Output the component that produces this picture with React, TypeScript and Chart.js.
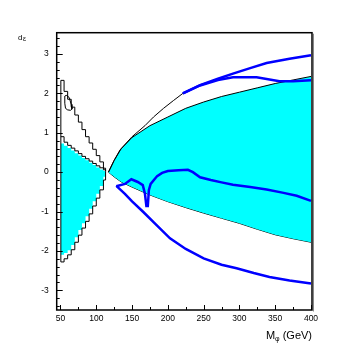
import { useEffect, useRef } from "react";
import { Chart, registerables } from "chart.js";

Chart.register(...registerables);

// ---- axis ticks ----
const xTickValues = [50, 100, 150, 200, 250, 300, 350, 400];
const yTickValues = [-3, -2, -1, 0, 1, 2, 3];

// ---- left region (histogram bins, 5 GeV) ----
const leftBinEdges = [50.5, 55, 60, 65, 70, 75, 80, 85, 90, 95, 100, 105, 110, 113];
const leftOuterUpper = [2.33, 2.05, 1.85, 1.65, 1.45, 1.27, 1.08, 0.9, 0.74, 0.58, 0.42, 0.26, 0.1];
const leftInnerTop = [0.9, 0.76, 0.68, 0.61, 0.54, 0.47, 0.4, 0.34, 0.28, 0.22, 0.16, 0.11, 0.06];
const leftCyanTop = [0.73, 0.67, 0.61, 0.55, 0.48, 0.42, 0.36, 0.3, 0.24, 0.18, 0.12, 0.07, 0.03];
const leftCyanBottom = [-2.1, -2.05, -1.98, -1.85, -1.65, -1.47, -1.3, -1.12, -0.93, -0.74, -0.55, -0.35, -0.12];
const leftOuterLower = [-2.28, -2.2, -2.1, -1.97, -1.78, -1.6, -1.42, -1.25, -1.06, -0.86, -0.66, -0.45, -0.2];
const leftApexY = 0.02;
const leftLoopX = [56, 58, 62, 65, 66, 64, 60, 57, 56, 56];
const leftLoopY = [1.93, 1.95, 1.9, 1.72, 1.6, 1.57, 1.58, 1.62, 1.75, 1.93];

// ---- right region (smooth band) ----
const rightX = [117, 125, 135, 150, 175, 200, 225, 250, 275, 300, 325, 350, 375, 400];
const rightCyanTop = [0.0, 0.3, 0.6, 0.88, 1.18, 1.4, 1.62, 1.78, 1.92, 2.03, 2.14, 2.25, 2.34, 2.43];
const rightCyanBottom = [0.0, -0.12, -0.25, -0.38, -0.58, -0.75, -0.9, -1.04, -1.17, -1.3, -1.45, -1.59, -1.69, -1.78];

const outerUpperX = [117, 125, 133, 150, 168, 180, 194, 208, 221];
const outerUpperY = [0.0, 0.3, 0.56, 0.9, 1.18, 1.4, 1.62, 1.82, 2.0];

// ---- blue curves ----
const blueTopAX = [221, 245, 270, 291, 315, 338, 370, 400];
const blueTopAY = [2.0, 2.21, 2.37, 2.5, 2.64, 2.77, 2.88, 2.97];
const blueTopBX = [221, 245, 270, 291, 324, 356, 375, 400];
const blueTopBY = [2.0, 2.2, 2.34, 2.41, 2.41, 2.31, 2.31, 2.33];
const blueMidX = [128, 140, 149, 158, 165, 168, 170, 172, 173.5, 176, 185, 192, 200, 215, 228, 235, 245, 260, 275, 291, 315, 338, 360, 380, 400];
const blueMidY = [-0.36, -0.3, -0.18, -0.25, -0.33, -0.55, -0.86, -0.86, -0.45, -0.3, -0.1, -0.02, 0.03, 0.05, 0.06, 0.0, -0.13, -0.2, -0.26, -0.32, -0.38, -0.44, -0.52, -0.6, -0.73];
const blueLowX = [128, 140, 150, 165, 180, 203, 225, 250, 275, 296, 320, 342, 370, 400];
const blueLowY = [-0.35, -0.55, -0.74, -1.0, -1.27, -1.68, -1.95, -2.19, -2.35, -2.44, -2.56, -2.66, -2.75, -2.83];

const BLUE = "#0000ff";
const CYAN = "#00ffff";
const FONT = "'Liberation Sans', Arial, sans-serif";

function stepPoints(edges: number[], vals: number[], endY: number) {
  const pts = vals.map((v, i) => ({ x: edges[i], y: v }));
  pts.push({ x: edges[edges.length - 1], y: endY });
  return pts;
}
function linePoints(xs: number[], ys: number[]) {
  return xs.map((x, i) => ({ x, y: ys[i] }));
}

export default function App() {
  const ref = useRef<HTMLCanvasElement>(null);

  useEffect(() => {
    if (!ref.current) return;

    const framePlugin = {
      id: "rootFrame",
      afterDraw(chart: any) {
        const { ctx, chartArea: a, scales } = chart;
        const xs = scales.x;
        const ys = scales.y;
        ctx.save();
        ctx.strokeStyle = "#000";
        ctx.lineWidth = 1;
        // y ticks (inside)
        for (let v = -3.4; v <= 3.41; v += 0.2) {
          const r = Math.round(v * 10) / 10;
          const major = Math.abs(r - Math.round(r)) < 1e-6;
          const py = Math.round(ys.getPixelForValue(r)) + 0.5;
          ctx.beginPath();
          ctx.moveTo(a.left, py);
          ctx.lineTo(a.left + (major ? 6 : 3), py);
          ctx.stroke();
        }
        // x ticks (inside)
        for (let v = 50; v <= 400; v += 25) {
          const major = v % 50 === 0;
          const px = Math.round(xs.getPixelForValue(v)) + 0.5;
          ctx.beginPath();
          ctx.moveTo(px, a.bottom);
          ctx.lineTo(px, a.bottom - (major ? 5 : 3));
          ctx.stroke();
        }
        // frame
        ctx.lineWidth = 1.5;
        ctx.strokeRect(a.left, a.top, a.right - a.left, a.bottom - a.top);
        ctx.strokeStyle = "#888";
        ctx.lineWidth = 1;
        ctx.beginPath();
        ctx.moveTo(a.right + 1.5, a.top + 1);
        ctx.lineTo(a.right + 1.5, a.bottom + 1.5);
        ctx.stroke();

        // x title: M_phi (GeV)
        ctx.fillStyle = "#000";
        ctx.textBaseline = "alphabetic";
        ctx.textAlign = "left";
        ctx.font = `11px ${FONT}`;
        const tail = " (GeV)";
        const wM = ctx.measureText("M").width;
        const wT = ctx.measureText(tail).width;
        ctx.font = `7px ${FONT}`;
        const wP = ctx.measureText("\u03c6").width;
        const xEnd = a.right;
        const x0 = xEnd - (wM + wP + wT);
        const yb = 339;
        ctx.font = `11px ${FONT}`;
        ctx.fillText("M", x0, yb);
        ctx.font = `7px ${FONT}`;
        ctx.fillText("\u03c6", x0 + wM, yb + 2);
        ctx.font = `11px ${FONT}`;
        ctx.fillText(tail, x0 + wM + wP, yb);

        // y title
        ctx.font = `8px ${FONT}`;
        ctx.fillText("d", 18, 40);
        ctx.font = `7px ${FONT}`;
        ctx.fillText("\u03b5", 23, 41);
        ctx.restore();
      },
    };

    const blackLine = (data: any[], stepped = false, order = 2) => ({
      data,
      showLine: true,
      borderColor: "#000",
      borderWidth: 1,
      pointRadius: 0,
      fill: false,
      stepped,
      order,
    });
    const blueLine = (data: any[]) => ({
      data,
      showLine: true,
      borderColor: BLUE,
      borderWidth: 2.5,
      pointRadius: 0,
      fill: false,
      order: 0,
    });

    const datasets: any[] = [
      blueLine(linePoints(blueTopAX, blueTopAY)), // 0
      blueLine(linePoints(blueTopBX, blueTopBY)), // 1
      blueLine(linePoints(blueMidX, blueMidY)), // 2
      blueLine(linePoints(blueLowX, blueLowY)), // 3
      blackLine(linePoints(outerUpperX, outerUpperY)), // 4
      {
        data: linePoints(rightX, rightCyanTop), // 5
        showLine: true,
        borderColor: "#000",
        borderWidth: 1,
        backgroundColor: CYAN,
        pointRadius: 0,
        fill: { target: 6 },
        order: 5,
      },
      blackLine(linePoints(rightX, rightCyanBottom), false, 5), // 6
      {
        data: stepPoints(leftBinEdges, leftCyanTop, leftApexY), // 7
        showLine: true,
        borderWidth: 0,
        borderColor: "rgba(0,0,0,0)",
        backgroundColor: CYAN,
        pointRadius: 0,
        stepped: true,
        fill: { target: 8 },
        order: 6,
      },
      {
        data: stepPoints(leftBinEdges, leftCyanBottom, leftApexY), // 8
        showLine: true,
        borderWidth: 0,
        borderColor: "rgba(0,0,0,0)",
        pointRadius: 0,
        stepped: true,
        fill: false,
        order: 6,
      },
      blackLine(stepPoints(leftBinEdges, leftInnerTop, leftApexY), true), // 9
      blackLine(stepPoints(leftBinEdges, leftOuterUpper, leftApexY), true), // 10
      blackLine(stepPoints(leftBinEdges, leftOuterLower, leftApexY), true), // 11
      blackLine(
        linePoints(
          [leftBinEdges[0], leftBinEdges[0]],
          [leftOuterLower[0], leftOuterUpper[0]]
        )
      ), // 12
      blackLine(linePoints(leftLoopX, leftLoopY)), // 13
    ];

    const chart = new Chart(ref.current, {
      type: "scatter",
      data: { datasets },
      options: {
        animation: false,
        responsive: false,
        events: [],
        layout: { padding: { left: 0, top: 32.7, right: 42, bottom: 0 } },
        plugins: { legend: { display: false }, tooltip: { enabled: false } },
        elements: { line: { tension: 0 } },
        scales: {
          x: {
            type: "linear",
            min: 44.7,
            max: 401.4,
            afterBuildTicks: (s: any) => {
              s.ticks = xTickValues.map((v) => ({ value: v }));
            },
            afterFit: (s: any) => {
              s.height = 354 - 310 - 0;
            },
            ticks: {
              color: "#000",
              font: { family: FONT, size: 8.5 },
              padding: 4,
              maxRotation: 0,
              autoSkip: false,
            },
            grid: { display: false, drawTicks: false },
            border: { display: false },
          },
          y: {
            type: "linear",
            min: -3.5,
            max: 3.54,
            afterBuildTicks: (s: any) => {
              s.ticks = yTickValues.map((v) => ({ value: v }));
            },
            afterFit: (s: any) => {
              s.width = 56.7;
            },
            ticks: {
              color: "#000",
              font: { family: FONT, size: 8.5 },
              padding: 8,
              autoSkip: false,
            },
            grid: { display: false, drawTicks: false },
            border: { display: false },
          },
        },
      },
      plugins: [framePlugin],
    });

    return () => chart.destroy();
  }, []);

  return (
    <div style={{ position: "absolute", left: 0, top: 0, width: 354, height: 354, background: "#fff" }}>
      <canvas ref={ref} width={354} height={354} style={{ display: "block" }} />
    </div>
  );
}
